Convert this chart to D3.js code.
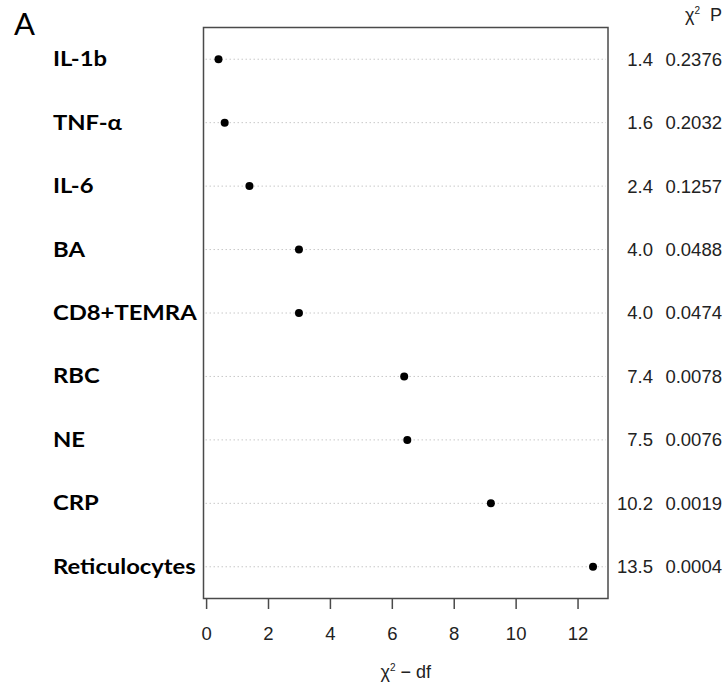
<!DOCTYPE html>
<html>
<head>
    <title>chi-square dotchart</title>
    <style>
        body { margin: 0; background: #fff; }
    </style>
</head>

<body>
<script src="https://d3js.org/d3.v7.min.js"></script>

<script>

    var width = 726,
        height = 689;

    // rows top to bottom
    var markers = ['IL-1b', 'TNF-\u03b1', 'IL-6', 'BA', 'CD8+TEMRA', 'RBC', 'NE', 'CRP', 'Reticulocytes'];
    var chiSq = [1.4, 1.6, 2.4, 4.0, 4.0, 7.4, 7.5, 10.2, 13.5];
    var df = [1, 1, 1, 1, 1, 1, 1, 1, 1];
    var pValues = ['0.2376', '0.2032', '0.1257', '0.0488', '0.0474', '0.0078', '0.0076', '0.0019', '0.0004'];

    var rows = markers.map(function (m, i) {
        return { name: m, chi: chiSq[i], x: chiSq[i] - df[i], p: pValues[i] };
    });

    var box = { left: 203.5, right: 608, top: 27.5, bottom: 598.5 };
    var numFont = '"Liberation Sans", Arial, sans-serif';

    // R style 4% extension of the data range
    var ext = d3.extent(rows, function (d) { return d.x; }),
        pad = (ext[1] - ext[0]) * 0.04;

    var x = d3.scaleLinear()
        .domain([ext[0] - pad, ext[1] + pad])
        .range([box.left, box.right]);

    var y = d3.scalePoint()
        .domain(markers)
        .range([box.top, box.bottom])
        .padding(0.5);

    var svg = d3.select('body').append('svg')
        .attr('width', width)
        .attr('height', height);

    // panel letter
    svg.append('text')
        .attr('x', 14)
        .attr('y', 35)
        .style('font-family', 'Lato, sans-serif')
        .style('font-size', '31px')
        .text('A');

    // dotted guide lines
    svg.selectAll('line.guide')
        .data(rows)
        .enter().append('line')
        .attr('class', 'guide')
        .attr('x1', box.left + 2)
        .attr('x2', box.right - 2)
        .attr('y1', function (d) { return y(d.name); })
        .attr('y2', function (d) { return y(d.name); })
        .attr('stroke', '#c8c8c8')
        .attr('stroke-width', 1)
        .attr('stroke-dasharray', '1.5,2.5');

    // frame
    svg.append('rect')
        .attr('x', box.left)
        .attr('y', box.top)
        .attr('width', box.right - box.left)
        .attr('height', box.bottom - box.top)
        .attr('fill', 'none')
        .attr('stroke', '#4a4a4a')
        .attr('stroke-width', 1.5);

    // points
    svg.selectAll('circle')
        .data(rows)
        .enter().append('circle')
        .attr('cx', function (d) { return x(d.x); })
        .attr('cy', function (d) { return y(d.name); })
        .attr('r', 4)
        .attr('fill', '#000');

    // row labels (the source figure is a little stretched sideways)
    svg.selectAll('text.label')
        .data(rows)
        .enter().append('text')
        .attr('class', 'label')
        .attr('transform', function (d) { return 'translate(53,' + y(d.name) + ') scale(1.19,1)'; })
        .attr('dy', '0.35em')
        .style('font-family', 'Lato, sans-serif')
        .style('font-weight', 'bold')
        .style('font-size', '20px')
        .text(function (d) { return d.name; });

    // chi-square column
    var fmt = d3.format('.1f');
    svg.selectAll('text.chi')
        .data(rows)
        .enter().append('text')
        .attr('class', 'chi')
        .attr('x', 653)
        .attr('y', function (d) { return y(d.name); })
        .attr('dy', '0.35em')
        .attr('text-anchor', 'end')
        .style('font-family', numFont)
        .style('font-size', '18.5px')
        .attr('fill', '#222')
        .text(function (d) { return fmt(d.chi); });

    // p column
    svg.selectAll('text.pval')
        .data(rows)
        .enter().append('text')
        .attr('class', 'pval')
        .attr('x', 722)
        .attr('y', function (d) { return y(d.name); })
        .attr('dy', '0.35em')
        .attr('text-anchor', 'end')
        .style('font-family', numFont)
        .style('font-size', '18.5px')
        .attr('fill', '#222')
        .text(function (d) { return d.p; });

    var head = svg.append('text')
        .attr('x', 722)
        .attr('y', 21)
        .attr('text-anchor', 'end')
        .style('font-family', numFont)
        .style('font-size', '18px')
        .attr('fill', '#222');
    head.append('tspan').text('\u03c7');
    head.append('tspan').attr('dy', -7).style('font-size', '10px').text('2');
    head.append('tspan').attr('dy', 7).style('white-space', 'pre').text('  P');

    // x axis
    var axis = svg.append('g')
        .attr('transform', 'translate(0,' + box.bottom + ')')
        .call(d3.axisBottom(x).ticks(7).tickSize(10.5).tickPadding(17.5));
    axis.select('.domain').remove();
    axis.selectAll('.tick line').attr('stroke', '#4a4a4a').attr('stroke-width', 1.5);
    axis.selectAll('.tick text')
        .style('font-family', numFont)
        .style('font-size', '18.5px')
        .attr('fill', '#222');

    var title = svg.append('text')
        .attr('x', (box.left + box.right) / 2)
        .attr('y', 678)
        .attr('text-anchor', 'middle')
        .style('font-family', numFont)
        .style('font-size', '18px')
        .attr('fill', '#222');
    title.append('tspan').text('\u03c7');
    title.append('tspan').attr('dy', -7).style('font-size', '10px').text('2');
    title.append('tspan').attr('dy', 7).style('white-space', 'pre').text(' \u2212 df');

</script>
</body>
</html>
